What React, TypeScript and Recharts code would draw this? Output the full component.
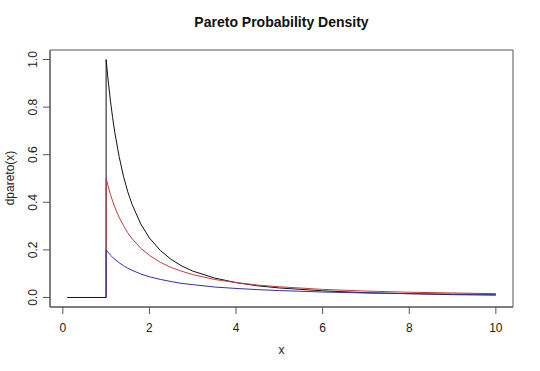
import { LineChart, Line, XAxis, YAxis, ReferenceArea } from 'recharts'

// sample points along x, the density jumps at x = 1
const xValues = [0.1, 1, 1, 1.05, 1.1, 1.15, 1.2, 1.3, 1.4, 1.5, 1.6, 1.8, 2, 2.25, 2.5, 2.75, 3, 3.5, 4, 4.5, 5, 6, 7, 8, 9, 10]
const blackValues = [0, 0, 1, 0.907, 0.826, 0.756, 0.694, 0.592, 0.51, 0.444, 0.391, 0.309, 0.25, 0.198, 0.16, 0.132, 0.111, 0.082, 0.0625, 0.049, 0.04, 0.028, 0.02, 0.016, 0.012, 0.01]
const redValues = [null, 0, 0.5, 0.465, 0.433, 0.405, 0.38, 0.337, 0.302, 0.272, 0.247, 0.207, 0.177, 0.148, 0.126, 0.11, 0.096, 0.076, 0.0625, 0.052, 0.045, 0.034, 0.027, 0.022, 0.019, 0.016]
const blueValues = [null, 0, 0.2, 0.189, 0.178, 0.169, 0.161, 0.146, 0.134, 0.123, 0.114, 0.099, 0.087, 0.076, 0.067, 0.059, 0.054, 0.044, 0.038, 0.033, 0.029, 0.023, 0.019, 0.016, 0.014, 0.013]

const xTicks = [0, 2, 4, 6, 8, 10]
const yTicks = [0, 0.2, 0.4, 0.6, 0.8, 1]

const xDomain: [number, number] = [-0.296, 10.396]
const yDomain: [number, number] = [-0.04, 1.04]

const FONT = '"Liberation Sans", Arial, sans-serif'
const INK = '#222'

const rows = xValues.map((x, i) => ({
  x,
  black: blackValues[i],
  red: redValues[i],
  blue: blueValues[i],
}))

document.body.style.margin = '0'

function YTick(props: any) {
  const { y, payload } = props
  return (
    <text
      x={37}
      y={y}
      transform={`rotate(-90, 37, ${y})`}
      textAnchor="middle"
      fontSize={12}
      fontFamily={FONT}
      fill={INK}
    >
      {Number(payload.value).toFixed(1)}
    </text>
  )
}

function XTick(props: any) {
  const { x, payload } = props
  return (
    <text x={x} y={332} textAnchor="middle" fontSize={12} fontFamily={FONT} fill={INK}>
      {payload.value}
    </text>
  )
}

export default function App() {
  return (
    <div style={{ position: 'relative', width: 540, height: 371, background: '#fff' }}>
      <div
        style={{
          position: 'absolute',
          left: 0,
          width: 563,
          top: 14,
          textAlign: 'center',
          fontFamily: FONT,
          fontWeight: 'bold',
          fontSize: 14,
          color: '#111',
        }}
      >
        Pareto Probability Density
      </div>
      <div
        style={{
          position: 'absolute',
          left: 0,
          width: 563,
          top: 343,
          textAlign: 'center',
          fontFamily: FONT,
          fontSize: 12,
          color: INK,
        }}
      >
        x
      </div>
      <div
        style={{
          position: 'absolute',
          left: 10,
          top: 178,
          transform: 'translate(-50%, -50%) rotate(-90deg)',
          fontFamily: FONT,
          fontSize: 12,
          color: INK,
          whiteSpace: 'nowrap',
        }}
      >
        dpareto(x)
      </div>
      <LineChart
        width={540}
        height={371}
        data={rows}
        margin={{ top: 50, right: 27, left: 0, bottom: 0 }}
        style={{ position: 'absolute', left: 0, top: 0 }}
      >
        <XAxis
          dataKey="x"
          type="number"
          domain={xDomain}
          ticks={xTicks}
          allowDataOverflow
          height={64}
          tickSize={7}
          tick={<XTick />}
          stroke="#555"
        />
        <YAxis
          type="number"
          domain={yDomain}
          ticks={yTicks}
          allowDataOverflow
          width={50}
          tickSize={7}
          tick={<YTick />}
          stroke="#555"
        />
        <ReferenceArea
          x1={xDomain[0]}
          x2={xDomain[1]}
          y1={yDomain[0]}
          y2={yDomain[1]}
          fill="none"
          stroke="#555"
          strokeWidth={1}
        />
        <Line type="linear" dataKey="black" stroke="#111" strokeWidth={1} dot={false} isAnimationActive={false} />
        <Line type="linear" dataKey="red" stroke="#c83a3a" strokeWidth={1} dot={false} isAnimationActive={false} />
        <Line type="linear" dataKey="blue" stroke="#3030a8" strokeWidth={1} dot={false} isAnimationActive={false} />
      </LineChart>
    </div>
  )
}
